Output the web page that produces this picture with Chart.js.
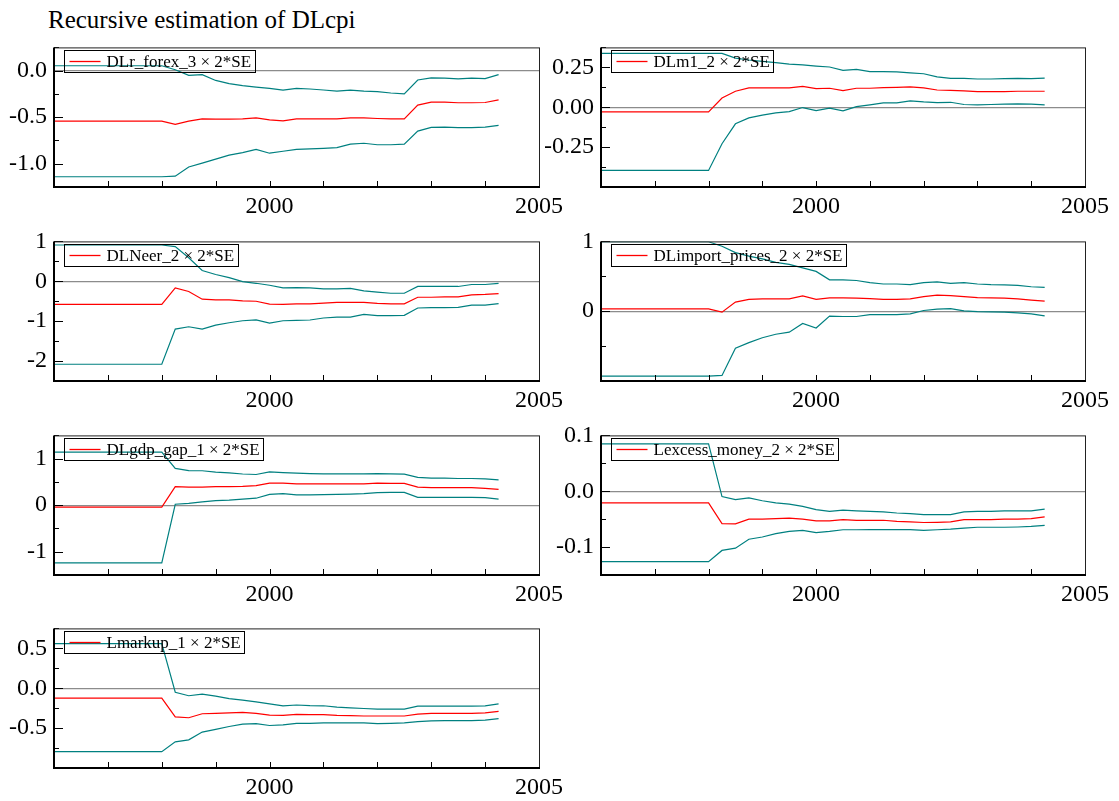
<!DOCTYPE html>
<html>
<head>
<meta charset="utf-8">
<title>Recursive estimation of DLcpi</title>
<script src="https://cdn.jsdelivr.net/npm/chart.js@4.4.1/dist/chart.umd.min.js"></script>
<style>
  body { margin: 0; background: #fff; }
  #page { position: relative; width: 1119px; height: 801px; overflow: hidden; }
  #title { position: absolute; left: 48px; top: 7px; font-family: 'Liberation Serif', 'Times New Roman', serif; font-size: 25px; line-height: 25px; color: #000; }
  .panel { position: absolute; }
</style>
</head>
<body>
<div id="page">
  <div id="title">Recursive estimation of DLcpi</div>
</div>
<script>
/*
  Recursive coefficient estimates (red) with +/- 2*SE bands (teal).
  Quarterly dates; the estimates are held constant over the initialisation period.
*/
const dates = [1996, 1998, 1998.25, 1998.5, 1998.75, 1999, 1999.25, 1999.5, 1999.75,
  2000, 2000.25, 2000.5, 2000.75, 2001, 2001.25, 2001.5, 2001.75,
  2002, 2002.25, 2002.5, 2002.75, 2003, 2003.25, 2003.5, 2003.75, 2004, 2004.25];

// DLr_forex_3
const forexCoef = [-0.542, -0.542, -0.577, -0.542, -0.518, -0.52, -0.52, -0.518, -0.507, -0.528, -0.54, -0.518, -0.518, -0.518, -0.518, -0.507, -0.507, -0.514, -0.518, -0.518, -0.37, -0.338, -0.338, -0.345, -0.345, -0.342, -0.313];
const forexUpper = [0.053, 0.053, 0.01, -0.05, -0.042, -0.105, -0.14, -0.16, -0.176, -0.19, -0.21, -0.19, -0.197, -0.208, -0.22, -0.21, -0.22, -0.225, -0.24, -0.25, -0.1, -0.077, -0.08, -0.088, -0.08, -0.085, -0.042];
const forexLower = [-1.14, -1.14, -1.134, -1.035, -0.993, -0.95, -0.908, -0.88, -0.845, -0.887, -0.866, -0.845, -0.84, -0.834, -0.827, -0.79, -0.78, -0.796, -0.796, -0.79, -0.65, -0.61, -0.606, -0.613, -0.613, -0.606, -0.588];

// DLm1_2
const m1Coef = [-0.029, -0.029, 0.058, 0.1, 0.121, 0.121, 0.121, 0.121, 0.131, 0.117, 0.119, 0.104, 0.119, 0.119, 0.123, 0.125, 0.127, 0.121, 0.108, 0.106, 0.102, 0.098, 0.098, 0.098, 0.1, 0.1, 0.1];
const m1Upper = [0.3375, 0.3375, 0.3375, 0.308, 0.296, 0.2875, 0.279, 0.27, 0.265, 0.258, 0.252, 0.231, 0.2375, 0.223, 0.223, 0.221, 0.215, 0.21, 0.19, 0.181, 0.181, 0.177, 0.177, 0.179, 0.181, 0.179, 0.183];
const m1Lower = [-0.396, -0.396, -0.229, -0.104, -0.067, -0.05, -0.035, -0.027, -0.002, -0.021, -0.006, -0.023, 0.004, 0.015, 0.027, 0.027, 0.04, 0.033, 0.029, 0.031, 0.017, 0.015, 0.017, 0.019, 0.021, 0.019, 0.015];

// DLNeer_2
const neerCoef = [-0.58, -0.58, -0.166, -0.257, -0.448, -0.465, -0.465, -0.49, -0.5, -0.573, -0.58, -0.564, -0.564, -0.548, -0.53, -0.53, -0.53, -0.556, -0.564, -0.564, -0.4, -0.4, -0.39, -0.39, -0.34, -0.33, -0.31];
const neerUpper = [0.91, 0.91, 0.87, 0.59, 0.27, 0.17, 0.09, -0.01, -0.05, -0.1, -0.166, -0.158, -0.166, -0.19, -0.19, -0.18, -0.24, -0.27, -0.3, -0.3, -0.13, -0.13, -0.13, -0.13, -0.08, -0.08, -0.05];
const neerLower = [-2.08, -2.08, -1.2, -1.14, -1.2, -1.1, -1.04, -0.99, -0.97, -1.05, -0.99, -0.98, -0.97, -0.92, -0.9, -0.9, -0.83, -0.86, -0.86, -0.855, -0.67, -0.66, -0.66, -0.655, -0.6, -0.6, -0.56];

// DLimport_prices_2
const importCoef = [0.033, 0.033, -0.014, 0.13, 0.17, 0.176, 0.176, 0.176, 0.22, 0.17, 0.19, 0.19, 0.186, 0.18, 0.17, 0.17, 0.176, 0.21, 0.23, 0.224, 0.21, 0.195, 0.19, 0.186, 0.176, 0.16, 0.143];
const importUpper = [0.995, 0.995, 0.93, 0.84, 0.79, 0.75, 0.7, 0.67, 0.62, 0.57, 0.45, 0.45, 0.44, 0.41, 0.39, 0.39, 0.38, 0.41, 0.42, 0.4, 0.41, 0.39, 0.38, 0.376, 0.37, 0.35, 0.34];
const importLower = [-0.93, -0.93, -0.92, -0.53, -0.45, -0.38, -0.33, -0.3, -0.176, -0.24, -0.07, -0.076, -0.076, -0.05, -0.05, -0.048, -0.038, 0.01, 0.03, 0.038, 0.005, -0.005, -0.01, -0.014, -0.024, -0.038, -0.067];

// DLgdp_gap_1
const gdpCoef = [-0.04, -0.04, 0.4, 0.39, 0.39, 0.4, 0.4, 0.404, 0.42, 0.475, 0.475, 0.46, 0.46, 0.46, 0.46, 0.46, 0.46, 0.475, 0.47, 0.47, 0.39, 0.376, 0.376, 0.376, 0.376, 0.36, 0.34];
const gdpUpper = [1.14, 1.14, 0.79, 0.745, 0.74, 0.71, 0.695, 0.67, 0.66, 0.716, 0.7, 0.69, 0.68, 0.674, 0.674, 0.674, 0.674, 0.68, 0.674, 0.667, 0.6, 0.58, 0.58, 0.574, 0.574, 0.567, 0.546];
const gdpLower = [-1.24, -1.24, 0.02, 0.04, 0.07, 0.1, 0.11, 0.13, 0.15, 0.234, 0.25, 0.22, 0.22, 0.227, 0.234, 0.24, 0.25, 0.27, 0.276, 0.276, 0.17, 0.17, 0.17, 0.17, 0.17, 0.163, 0.13];

// Lexcess_money_2
const moneyCoef = [-0.021, -0.021, -0.058, -0.0585, -0.05, -0.05, -0.049, -0.048, -0.05, -0.053, -0.053, -0.051, -0.052, -0.052, -0.052, -0.054, -0.055, -0.056, -0.0556, -0.055, -0.051, -0.051, -0.051, -0.05, -0.05, -0.049, -0.046];
const moneyUpper = [0.085, 0.085, -0.0095, -0.015, -0.012, -0.017, -0.021, -0.023, -0.027, -0.033, -0.036, -0.034, -0.035, -0.036, -0.037, -0.039, -0.04, -0.042, -0.042, -0.042, -0.037, -0.036, -0.036, -0.035, -0.035, -0.035, -0.032];
const moneyLower = [-0.126, -0.126, -0.106, -0.102, -0.086, -0.082, -0.076, -0.072, -0.07, -0.074, -0.072, -0.069, -0.069, -0.0686, -0.0686, -0.0686, -0.0686, -0.07, -0.069, -0.068, -0.066, -0.0645, -0.0645, -0.0645, -0.064, -0.063, -0.061];

// Lmarkup_1
const markupCoef = [-0.123, -0.123, -0.36, -0.37, -0.32, -0.316, -0.31, -0.303, -0.316, -0.336, -0.34, -0.328, -0.33, -0.33, -0.34, -0.344, -0.348, -0.348, -0.348, -0.348, -0.324, -0.316, -0.316, -0.316, -0.316, -0.31, -0.29];
const markupUpper = [0.56, 0.56, -0.05, -0.094, -0.074, -0.098, -0.13, -0.148, -0.172, -0.197, -0.22, -0.21, -0.217, -0.22, -0.238, -0.246, -0.254, -0.262, -0.262, -0.262, -0.225, -0.225, -0.225, -0.225, -0.225, -0.22, -0.197];
const markupLower = [-0.795, -0.795, -0.672, -0.647, -0.55, -0.516, -0.48, -0.45, -0.443, -0.467, -0.46, -0.44, -0.44, -0.434, -0.434, -0.434, -0.434, -0.443, -0.44, -0.434, -0.418, -0.41, -0.406, -0.406, -0.406, -0.4, -0.38];

const legendLabels = ['DLr_forex_3 \u00d7 2*SE', 'DLm1_2 \u00d7 2*SE', 'DLNeer_2 \u00d7 2*SE',
  'DLimport_prices_2 \u00d7 2*SE', 'DLgdp_gap_1 \u00d7 2*SE', 'Lexcess_money_2 \u00d7 2*SE', 'Lmarkup_1 \u00d7 2*SE'];
const xLabels = [2000, 2005];

const SERIF = "'Liberation Serif', 'Times New Roman', serif";
const RED = 'rgb(255, 0, 0)';
const TEAL = 'rgb(0, 128, 128)';
const PAD_TOP = 20; // canvas space above the plot box
const X_AXIS_H = 45; // canvas space below the plot box
const PLOT_H = 141;

// one entry per panel: series + y axis setup + where the box goes on the page
const panels = [
  { coef: forexCoef, upper: forexUpper, lower: forexLower, min: -1.25, max: 0.25, step: 0.25, major: 0.5, dec: 1, col: 0, top: 46 },
  { coef: m1Coef, upper: m1Upper, lower: m1Lower, min: -0.5, max: 0.375, step: 0.125, major: 0.25, dec: 2, col: 1, top: 46 },
  { coef: neerCoef, upper: neerUpper, lower: neerLower, min: -2.5, max: 1, step: 0.5, major: 1, dec: 0, col: 0, top: 240 },
  { coef: importCoef, upper: importUpper, lower: importLower, min: -1, max: 1, step: 0.5, major: 1, dec: 0, col: 1, top: 240 },
  { coef: gdpCoef, upper: gdpUpper, lower: gdpLower, min: -1.5, max: 1.5, step: 0.5, major: 1, dec: 0, col: 0, top: 434 },
  { coef: moneyCoef, upper: moneyUpper, lower: moneyLower, min: -0.15, max: 0.1, step: 0.05, major: 0.1, dec: 1, col: 1, top: 434 },
  { coef: markupCoef, upper: markupUpper, lower: markupLower, min: -1, max: 0.75, step: 0.25, major: 0.5, dec: 1, col: 0, top: 627 }
];

// canvas left, y-axis width, plot right edge for the two columns
const columns = [
  { left: 0, axisW: 54, plotRight: 539 },
  { left: 545, axisW: 56, plotRight: 1085 }
];
const CANVAS_W = 580;

function isMajor(value, major) {
  const r = value / major;
  return Math.abs(r - Math.round(r)) < 1e-6;
}

function toPoints(values) {
  return dates.map((d, i) => ({ x: d, y: values[i] }));
}

// inward tick marks, the plot box and the legend box
const panelDecor = {
  id: 'panelDecor',
  afterDatasetsDraw(chart, args, opts) {
    const { ctx, chartArea: a, scales } = chart;
    ctx.save();
    ctx.strokeStyle = '#000';
    ctx.lineWidth = 1;

    scales.y.ticks.forEach((t) => {
      const y = Math.round(scales.y.getPixelForValue(t.value)) + 0.5;
      const len = isMajor(t.value, opts.major) ? 9 : 5;
      ctx.beginPath();
      ctx.moveTo(a.left, y);
      ctx.lineTo(a.left + len, y);
      ctx.stroke();
    });
    scales.x.ticks.forEach((t) => {
      const x = Math.round(scales.x.getPixelForValue(t.value)) + 0.5;
      ctx.beginPath();
      ctx.moveTo(x, a.bottom);
      ctx.lineTo(x, a.bottom - 6);
      ctx.stroke();
    });

    // box: thin top/right, heavier left/bottom
    ctx.strokeStyle = '#222';
    ctx.strokeRect(a.left + 0.5, a.top + 0.5, a.right - a.left, a.bottom - a.top);
    ctx.strokeStyle = '#000';
    ctx.lineWidth = 2;
    ctx.beginPath();
    ctx.moveTo(a.left, a.top);
    ctx.lineTo(a.left, a.bottom);
    ctx.lineTo(a.right + 1, a.bottom);
    ctx.stroke();

    // legend
    ctx.font = `17px ${SERIF}`;
    const textW = ctx.measureText(opts.label).width;
    const bx = Math.round(a.left + 10) + 0.5;
    const by = Math.round(a.top + 2.5) + 0.5;
    const bh = 22;
    const bw = Math.round(42 + textW + 4);
    ctx.lineWidth = 1;
    ctx.strokeStyle = '#000';
    ctx.strokeRect(bx, by, bw, bh);
    ctx.strokeStyle = RED;
    ctx.lineWidth = 1.3;
    ctx.beginPath();
    ctx.moveTo(bx + 5, by + bh / 2);
    ctx.lineTo(bx + 36, by + bh / 2);
    ctx.stroke();
    ctx.fillStyle = '#000';
    ctx.textBaseline = 'middle';
    ctx.textAlign = 'left';
    ctx.fillText(opts.label, bx + 42, by + bh / 2 + 1);
    ctx.restore();
  }
};

function makePanel(panel, index) {
  const col = columns[panel.col];
  const canvas = document.createElement('canvas');
  canvas.width = CANVAS_W;
  canvas.height = PAD_TOP + PLOT_H + X_AXIS_H;
  canvas.className = 'panel';
  canvas.style.left = `${col.left}px`;
  canvas.style.top = `${panel.top - PAD_TOP}px`;
  document.querySelector('#page').appendChild(canvas);

  const line = (values, color) => ({
    data: toPoints(values),
    borderColor: color,
    borderWidth: 1.2,
    pointRadius: 0,
    tension: 0,
    fill: false
  });

  return new Chart(canvas, {
    type: 'line',
    data: {
      datasets: [line(panel.upper, TEAL), line(panel.lower, TEAL), line(panel.coef, RED)]
    },
    options: {
      responsive: false,
      animation: false,
      devicePixelRatio: 1,
      layout: { padding: { top: PAD_TOP, right: CANVAS_W - (col.plotRight - col.left), bottom: 0, left: 0 } },
      plugins: {
        legend: { display: false },
        tooltip: { enabled: false },
        panelDecor: { major: panel.major, label: legendLabels[index] }
      },
      scales: {
        x: {
          type: 'linear',
          min: 1996,
          max: 2005,
          afterFit: (scale) => { scale.height = X_AXIS_H; },
          grid: { display: false, drawTicks: false },
          border: { display: false },
          ticks: {
            stepSize: 1,
            autoSkip: false,
            maxRotation: 0,
            padding: 5,
            color: '#000',
            font: { family: SERIF, size: 24 },
            callback: (v) => (xLabels.includes(v) ? String(v) : '')
          }
        },
        y: {
          type: 'linear',
          min: panel.min,
          max: panel.max,
          afterFit: (scale) => { scale.width = col.axisW; },
          grid: {
            drawTicks: false,
            lineWidth: 1.2,
            color: (ctx) => (ctx.tick && Math.abs(ctx.tick.value) < 1e-9 ? 'rgb(140, 140, 140)' : 'rgba(0,0,0,0)')
          },
          border: { display: false },
          ticks: {
            stepSize: panel.step,
            autoSkip: false,
            padding: 7,
            color: '#000',
            font: { family: SERIF, size: 24 },
            // the value at the bottom edge of the box is never labelled
            callback: (v, i) => (i > 0 && isMajor(v, panel.major) ? Number(v).toFixed(panel.dec) : '')
          }
        }
      }
    },
    plugins: [panelDecor]
  });
}

document.addEventListener('DOMContentLoaded', () => {
  panels.forEach((p, i) => makePanel(p, i));
});
</script>
</body>
</html>
